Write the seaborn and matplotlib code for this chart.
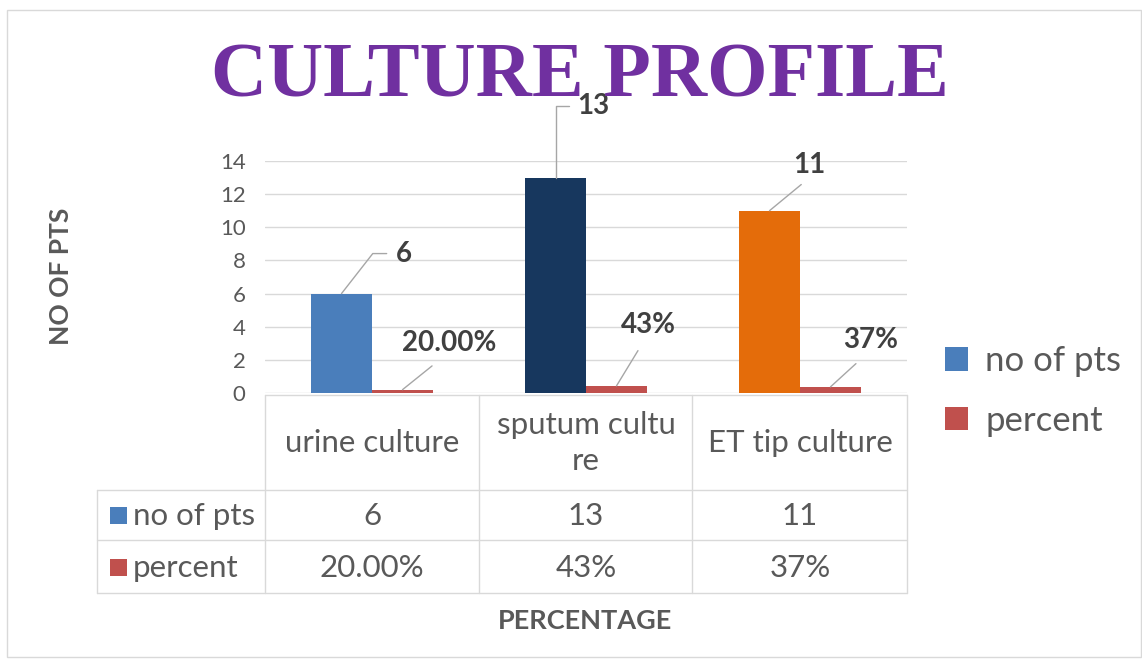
import matplotlib
matplotlib.use("Agg")
import matplotlib.pyplot as plt
from matplotlib.lines import Line2D
from matplotlib.patches import Patch, Rectangle
from matplotlib.transforms import blended_transform_factory
import seaborn as sns
import pandas as pd

categories = ["urine culture", "sputum culture", "ET tip culture"]
header_labels = ["urine culture", "sputum cultu\nre", "ET tip culture"]
no_of_pts = [6, 13, 11]
percent = [0.20, 0.43, 0.37]
percent_labels = ["20.00%", "43%", "37%"]
series_names = ["no of pts", "percent"]

point_colors = ["#4a7ebb", "#17375e", "#e46c0a"]
series_colors = ["#4a7ebb", "#c0504d"]

sns.set_style("white")
plt.rcParams["font.family"] = ["Lato", "DejaVu Sans"]

W, H = 1142, 659


def fx(px):
    return px / W


def fy(py):
    return 1 - py / H


df = pd.DataFrame({
    "category": categories * 2,
    "series": [series_names[0]] * 3 + [series_names[1]] * 3,
    "value": no_of_pts + percent,
})

fig = plt.figure(figsize=(W / 100, H / 100), dpi=100)
ax = fig.add_axes([fx(265), fy(393), (907 - 265) / W, (393 - 161) / H])

sns.barplot(data=df, x="category", y="value", hue="series", palette=series_colors,
            width=0.57, saturation=1, legend=False, linewidth=0, ax=ax)

bars = sorted(ax.patches, key=lambda p: p.get_x())
for i, b in enumerate(bars):
    b.set_linewidth(0)
    if i % 2 == 0:
        b.set_facecolor(point_colors[i // 2])

ax.set_xlim(-0.5, 2.5)
ax.set_ylim(0, 14)
ax.set_yticks(range(0, 15, 2))
ax.set_xticks([])
ax.set_xlabel("")
ax.set_ylabel("")
ax.yaxis.grid(True, color="#d9d9d9", lw=1)
ax.set_axisbelow(True)
for s in ax.spines.values():
    s.set_visible(False)
ax.tick_params(axis="y", length=0, labelsize=16, labelcolor="#595959", pad=14)

# data labels with leader lines
lab_color = "#404040"
count_bars = bars[0::2]
pct_bars = bars[1::2]
count_offsets = [(62, 40), (38, 72), (40, 46)]
count_conn = ["angle,angleA=0,angleB=52", "angle,angleA=0,angleB=90", "arc3"]
count_rel = [(0, 0.5), (0, 0.5), (0.5, 0)]
for b, v, off, cs, rp in zip(count_bars, no_of_pts, count_offsets, count_conn, count_rel):
    ax.annotate(str(v), xy=(b.get_x() + b.get_width() / 2, v), xytext=off,
                textcoords="offset pixels", ha="center", va="center",
                fontsize=20, fontweight="bold", color=lab_color, zorder=10,
                arrowprops=dict(arrowstyle="-", color="#a6a6a6", lw=1,
                                connectionstyle=cs, relpos=rp, shrinkA=4, shrinkB=0))

pct_offsets = [(47, 47), (32, 61), (40, 47)]
for b, v, lab, off in zip(pct_bars, percent, percent_labels, pct_offsets):
    ax.annotate(lab, xy=(b.get_x() + b.get_width() / 2, v), xytext=off,
                textcoords="offset pixels", ha="center", va="center",
                fontsize=20, fontweight="bold", color=lab_color, zorder=10,
                arrowprops=dict(arrowstyle="-", color="#a6a6a6", lw=1,
                                relpos=(0.45, 0), shrinkA=8, shrinkB=0))

# title
fig.text(fx(580), fy(78), "CULTURE PROFILE", ha="center", va="center",
         fontsize=56, fontweight="bold", family="Liberation Serif",
         color="#7030a0", zorder=1)

# axis titles
fig.text(fx(61), fy(276), "NO OF PTS", rotation=90, ha="center", va="center",
         fontsize=19, fontweight="bold", color="#595959")
fig.text(fx(585), fy(621), "PERCENTAGE", ha="center", va="center",
         fontsize=19.5, fontweight="bold", color="#595959")

# data table
grid_c = "#d9d9d9"
hlines = [(265, 907, 395), (97, 907, 490), (97, 907, 540), (97, 907, 593)]
vlines = [(97, 490, 593), (265, 395, 593), (479, 395, 593), (692, 395, 593), (907, 395, 593)]
for x0, x1, y in hlines:
    fig.add_artist(Line2D([fx(x0), fx(x1)], [fy(y), fy(y)], color=grid_c, lw=1))
for x, y0, y1 in vlines:
    fig.add_artist(Line2D([fx(x), fx(x)], [fy(y0), fy(y1)], color=grid_c, lw=1))

tr = blended_transform_factory(ax.transData, fig.transFigure)
tab_color = "#595959"
tab_fs = 22.5
for i, h in enumerate(header_labels):
    ax.text(i, fy(443), h, transform=tr, ha="center", va="center", fontsize=tab_fs,
            color=tab_color, linespacing=1.35, clip_on=False)
    ax.text(i, fy(516), str(no_of_pts[i]), transform=tr, ha="center", va="center",
            fontsize=tab_fs, color=tab_color, clip_on=False)
    ax.text(i, fy(568), percent_labels[i], transform=tr, ha="center", va="center",
            fontsize=tab_fs, color=tab_color, clip_on=False)

for name, col, yc in zip(series_names, series_colors, [516, 568]):
    fig.add_artist(Rectangle((fx(110), fy(yc + 8)), 17 / W, 17 / H,
                             facecolor=col, edgecolor="none"))
    fig.text(fx(133), fy(yc), name, ha="left", va="center", fontsize=tab_fs, color=tab_color)

# legend
handles = [Patch(facecolor=c, edgecolor="none", label=n) for n, c in zip(series_names, series_colors)]
fig.legend(handles=handles, loc="center left", bbox_to_anchor=(fx(945), fy(391)),
           frameon=False, fontsize=25, handlelength=0.66, handleheight=0.66,
           handletextpad=0.5, labelspacing=0.8, borderpad=0, borderaxespad=0,
           labelcolor="#595959")

# chart border
fig.add_artist(Rectangle((fx(7), fy(657)), (1141 - 7) / W, (657 - 10) / H,
                         fill=False, edgecolor="#d9d9d9", lw=1))

fig.savefig("out.png", dpi=100, facecolor="white")
